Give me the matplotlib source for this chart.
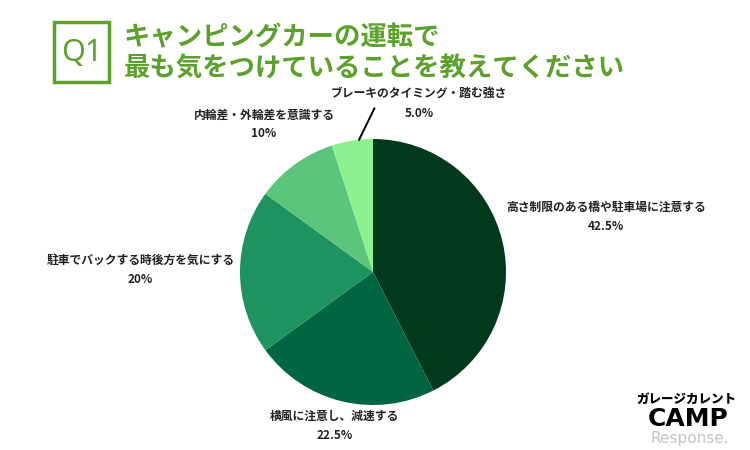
import numpy as np
import matplotlib.pyplot as plt
from matplotlib.patches import Rectangle

plt.rcParams['font.family'] = ['Noto Sans CJK JP', 'DejaVu Sans']

# data
labels = ["高さ制限のある橋や駐車場に注意する", "横風に注意し、減速する",
          "駐車でバックする時後方を気にする", "内輪差・外輪差を意識する",
          "ブレーキのタイミング・踏む強さ"]
values = [42.5, 22.5, 20.0, 10.0, 5.0]
pct_text = ["42.5%", "22.5%", "20%", "10%", "5.0%"]
colors = ["#00391c", "#006541", "#1d935f", "#5bc57b", "#8ef190"]

title1 = "キャンピングカーの運転で"
title2 = "最も気をつけていることを教えてください"
green = "#5ba12c"

fig = plt.figure(figsize=(7.5, 4.5), dpi=100)

# pie axes: center (373, 272), r=133 px
r_px = 133
cx, cy = 373, 272
ax = fig.add_axes([(cx - r_px) / 750, (450 - cy - r_px) / 450, 2 * r_px / 750, 2 * r_px / 450])
wedges, _ = ax.pie(values, colors=colors, startangle=90, counterclock=False,
                   wedgeprops=dict(linewidth=0))
ax.set_xlim(-1, 1)
ax.set_ylim(-1, 1)
ax.set_aspect('auto')

# label placement (angle offset, distance) per slice
dist = [1.80, 1.19, 1.75, 1.38, 1.31]
ang_shift = [-0.2, -0.5, -0.5, 0.4, -24.3]
for w, lab, p, d, s in zip(wedges, labels, pct_text, dist, ang_shift):
    mid = np.deg2rad((w.theta1 + w.theta2) / 2 + s)
    x, y = d * np.cos(mid), d * np.sin(mid)
    ax.text(x, y, lab + "\n" + p, ha='center', va='center', fontsize=8.5,
            fontweight='bold', color='#222222', linespacing=1.6, clip_on=False)

# leader line for the small slice
w5 = wedges[4]
m5 = np.deg2rad((w5.theta1 + w5.theta2) / 2 - 3)
ax.plot([np.cos(m5), np.cos(m5) + 0.115], [np.sin(m5), 1.23],
        color='black', linewidth=1.4, clip_on=False)

# title
fig.patches.append(Rectangle((54 / 750, 1 - 82 / 450), 55 / 750, 60 / 450,
                             transform=fig.transFigure, fill=False,
                             edgecolor=green, linewidth=2.5))
fig.text(81.5 / 750, 1 - 53 / 450, "Q1", ha='center', va='center',
         fontsize=22, color=green, family='Noto Sans', fontweight='medium')
fig.text(124 / 750, 1 - 38 / 450, title1, ha='left', va='center',
         fontsize=19, color=green, fontweight='bold')
fig.text(124 / 750, 1 - 69 / 450, title2, ha='left', va='center',
         fontsize=19, color=green, fontweight='bold')

# logo
fig.text(686 / 750, 1 - 399 / 450, "ガレージカレント", ha='center', va='center',
         fontsize=9, color='black', fontweight='black')
fig.text(688 / 750, 1 - 419 / 450, "CAMP", ha='center', va='center',
         fontsize=18, color='black', fontweight='black', family='DejaVu Sans',
         zorder=3)
fig.text(690 / 750, 1 - 438 / 450, "Response.", ha='center', va='center',
         fontsize=11, color='#c4c4c4', family='DejaVu Sans', zorder=2)

fig.savefig("out.png", dpi=100)
